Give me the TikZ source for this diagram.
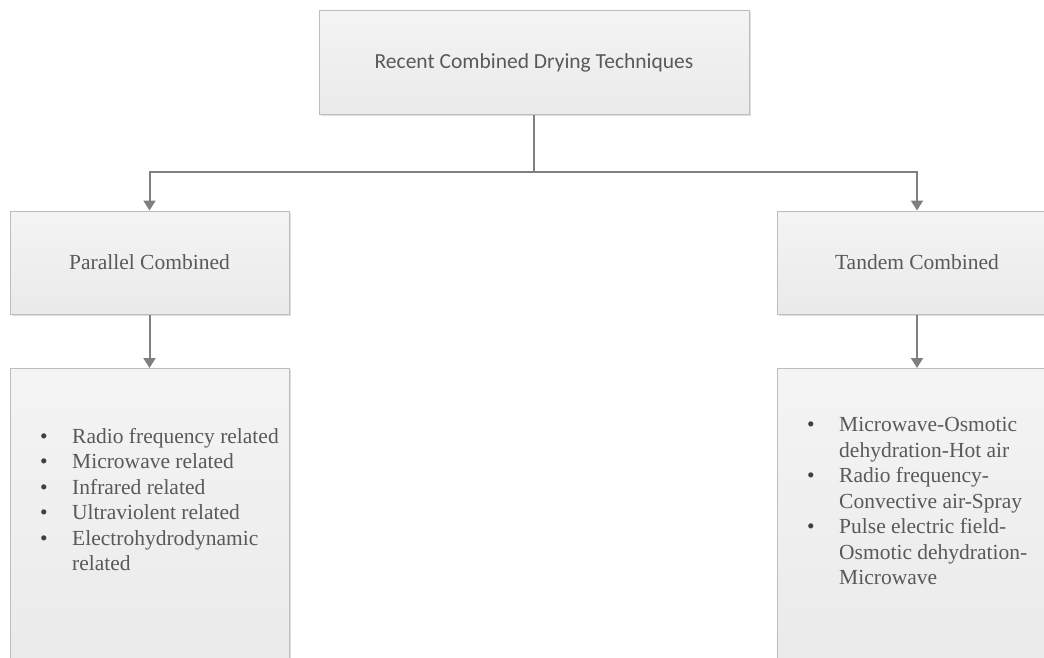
\documentclass[tikz,border=0pt]{standalone}
\usepackage{fontspec}
\setmainfont{Liberation Serif}
\newfontfamily\calibri{Carlito}
\usetikzlibrary{arrows.meta,shadows}

\definecolor{boxline}{HTML}{BDBDBD}
\definecolor{boxtop}{HTML}{F4F4F5}
\definecolor{boxbottom}{HTML}{EAEAEA}
\definecolor{linkgray}{HTML}{7F7F7F}
\definecolor{textgray}{HTML}{595959}
\definecolor{dotgray}{HTML}{3F3F3F}

\newcommand{\litem}[1]{\makebox[32pt][l]{\textcolor{dotgray}{\textbullet}}#1}
\newcommand{\lcont}[1]{\hspace*{32pt}#1}

\tikzset{
  box/.style={draw=boxline, line width=1pt, top color=boxtop, bottom color=boxbottom,
    drop shadow={shadow xshift=1.5pt, shadow yshift=-1.5pt, opacity=0.25, fill=gray},
    text=textgray, font=\fontsize{21.5}{26}\selectfont, inner sep=0pt},
  listtext/.style={anchor=north west, inner sep=0pt, align=left, text=textgray,
    font=\fontsize{21.5}{25.5}\selectfont},
  link/.style={draw=linkgray, line width=2pt, -{Triangle[width=12pt,length=10pt]}},
}

\begin{document}
\begin{tikzpicture}[x=1pt, y=-1pt]
  \useasboundingbox (0,0) rectangle (1044,658);
  \clip (0,0) rectangle (1044,658);

  \node[box, minimum width=430, minimum height=104, font=\calibri\fontsize{21.5}{26}\selectfont] (top) at (534,63) {Recent Combined Drying Techniques};
  \node[box, minimum width=279, minimum height=103] (par) at (149.5,262.5) {Parallel Combined};
  \node[box, minimum width=279, minimum height=103] (tan) at (917,262.5) {Tandem Combined};
  \node[box, minimum width=279, minimum height=310, anchor=north] (parbox) at (149.5,368) {};
  \node[box, minimum width=279, minimum height=310, anchor=north] (tanbox) at (917,368) {};

  \node[listtext] (parlist) at (40,428) {\litem{Radio frequency related}\\ \litem{Microwave related}\\ \litem{Infrared related}\\ \litem{Ultraviolent related}\\ \litem{Electrohydrodynamic}\\ \lcont{related}};
  \node[listtext] (tanlist) at (807,417.5) {\litem{Microwave-Osmotic}\\ \lcont{dehydration-Hot air}\\ \litem{Radio frequency-}\\ \lcont{Convective air-Spray}\\ \litem{Pulse electric field-}\\ \lcont{Osmotic dehydration-}\\ \lcont{Microwave}};

  \coordinate (split) at (534,172);
  \draw[draw=linkgray, line width=2pt] (top.south) -- (split);
  \draw[link] (split) -| (par.north);
  \draw[link] (split) -| (tan.north);
  \draw[link] (par.south) -- (parbox.north);
  \draw[link] (tan.south) -- (tanbox.north);
\end{tikzpicture}
\end{document}
